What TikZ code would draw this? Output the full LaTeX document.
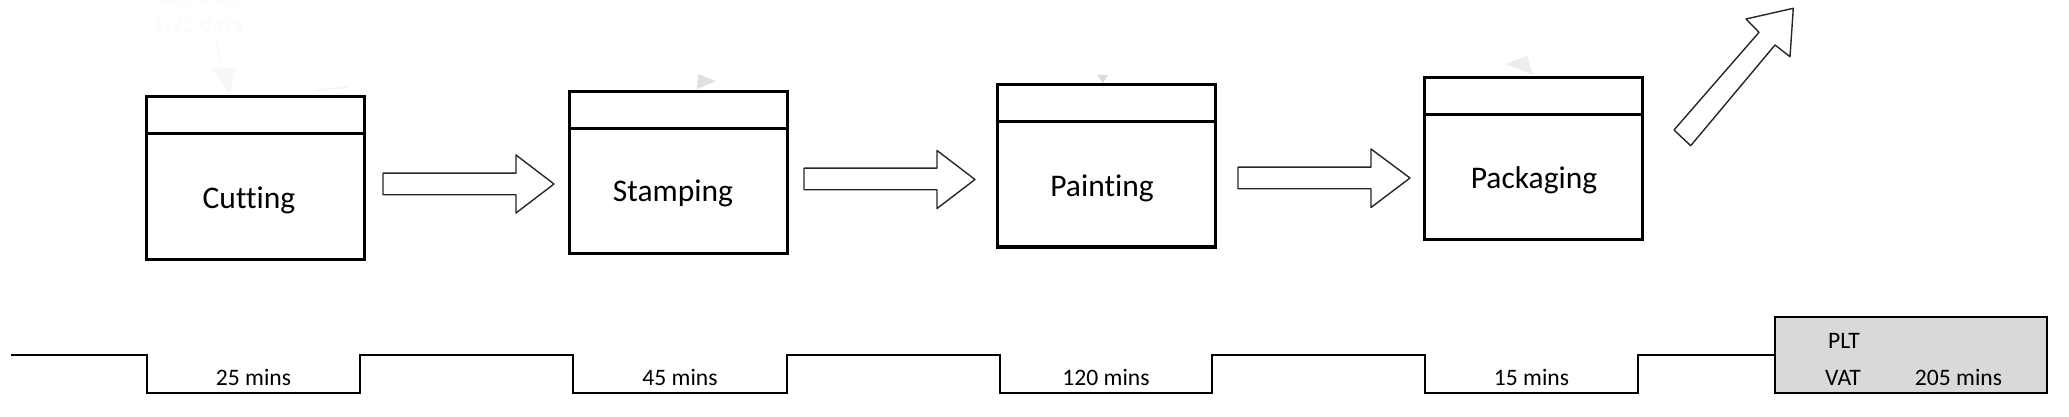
\documentclass[tikz,border=0pt]{standalone}
\usepackage{fontspec}
\setmainfont{Carlito}[RawFeature={-liga,-clig}]
\definecolor{pltgray}{HTML}{D9D9D9}
\begin{document}
\begin{tikzpicture}[x=0.5pt,y=-0.5pt,
  procbox/.style={draw=black, line width=1.5pt, line join=miter, inner sep=0pt, fill=white, minimum width=109pt, minimum height=81pt},
  procline/.style={draw=black, line width=1.5pt},
  proclabel/.style={font=\fontsize{15.75pt}{18pt}\selectfont, anchor=base, inner sep=0pt},
  timelabel/.style={font=\fontsize{11.8pt}{14pt}\selectfont, anchor=base, inner sep=0pt},
  steps/.style={draw=black, line width=0.55pt},
  blockarr/.style={draw=black!85, line width=0.7pt, fill=white, line join=round},
  ghosttext/.style={font=\fontsize{11.8pt}{14pt}\selectfont, anchor=base, inner sep=0pt, text=black!2},
  ghostfill/.style={fill=black!#1},
]
\useasboundingbox (0,0) rectangle (2069,417);

% faint ghost elements
\node[ghosttext] (g1) at (199,4) {100 units};
\node[ghosttext] (g2) at (198,32.3) {1.75 days};
\draw[black!3, line width=0.5pt] (215.7,41.7) -- (223,68.3);
\fill[ghostfill=3] (211.7,68.3) -- (235,68.3) -- (230,95) -- cycle;
\draw[black!4, line width=1pt] (316.7,90.7) -- (346.7,86.7);
\fill[ghostfill=12] (697,89) -- (698,74) -- (716,81) -- cycle;
\fill[ghostfill=14] (1097,75) -- (1108,75) -- (1103,83) -- cycle;
\fill[ghostfill=7] (1505,64) -- (1527,56) -- (1533,75) -- cycle;

% process boxes
\node[procbox] (cut) at (255.5,178) {};
\node[procbox, minimum height=80.5pt] (stamp) at (678,172.5) {};
\node[procbox] (paint) at (1106,166) {};
\node[procbox] (pack) at (1533,159) {};
\foreach \b in {cut,stamp,paint,pack}{
  \draw[procline] ([yshift=-19pt]\b.north west) -- ([yshift=-19pt]\b.north east);
}
\node[proclabel] (cutT) at (249,208) {Cutting};
\node[proclabel] (stampT) at (673,201.7) {Stamping};
\node[proclabel] (paintT) at (1102,196.2) {Painting};
\node[proclabel] (packT) at (1534,188.8) {Packaging};

% block arrows
\draw[blockarr] (383,173.2) -- (516,173.2) -- (516,155) -- (554,184) -- (516,213) -- (516,194.8) -- (383,194.8) -- cycle;
\draw[blockarr] (804,168.2) -- (937,168.2) -- (937,150.5) -- (975,179.5) -- (937,208.5) -- (937,189.8) -- (804,189.8) -- cycle;
\draw[blockarr] (1238,167.2) -- (1371,167.2) -- (1371,149) -- (1410,178) -- (1371,207.5) -- (1371,188.8) -- (1238,188.8) -- cycle;
\draw[blockarr] (1674,130) -- (1759,32.3) -- (1746,19) -- (1793.3,8.3) -- (1790,56.7) -- (1775,45) -- (1690.7,145.7) -- cycle;

% lead time ladder
\node[draw=black, line width=0.55pt, fill=pltgray, inner sep=0pt, minimum width=136pt, minimum height=38pt] (plt) at (1911,355) {};
\coordinate (start) at (11,355);
\draw[steps] (start) -- (147,355) -- (147,393) -- (360,393) -- (360,355)
  -- (573,355) -- (573,393) -- (787,393) -- (787,355)
  -- (1000,355) -- (1000,393) -- (1212,393) -- (1212,355)
  -- (1425,355) -- (1425,393) -- (1638,393) -- (1638,355) -- (plt.west);

\node[timelabel] (t1) at (253.5,385) {25 mins};
\node[timelabel] (t2) at (680,385) {45 mins};
\node[timelabel] (t3) at (1106,385) {120 mins};
\node[timelabel] (t4) at (1531.5,385) {15 mins};
\node[timelabel] (plttxt) at (1844,348) {PLT};
\node[timelabel] (vattxt) at (1843,385) {VAT};
\node[timelabel] (total) at (1958.5,385) {205 mins};
\end{tikzpicture}
\end{document}
